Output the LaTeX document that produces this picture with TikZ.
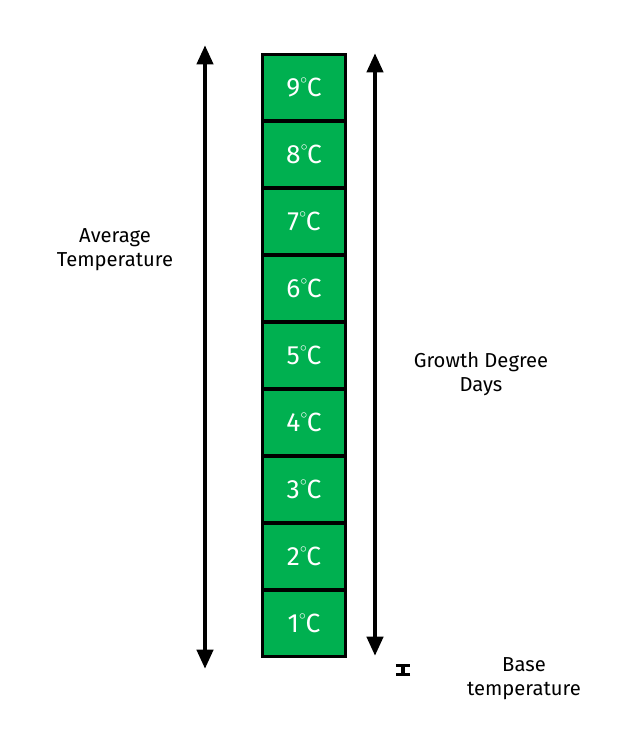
\documentclass[tikz,border=0pt]{standalone}
\usepackage{fontspec}
\setmainfont{Fira Sans}
\usetikzlibrary{positioning,arrows.meta,calc}
\definecolor{boxgreen}{RGB}{0,176,80}
\tikzset{
  tempbox/.style={draw=black, line width=1.7pt, fill=boxgreen, minimum width=47.6pt,
    minimum height=38pt, inner sep=0pt, text=white, font=\fontsize{15}{15}\selectfont},
  bigarrow/.style={line width=2.6pt, {Triangle[length=11pt,width=9pt]}-{Triangle[length=11pt,width=9pt]}},
  lbl/.style={align=center, font=\fontsize{11.5}{13.5}\selectfont}
}
\begin{document}
\begin{tikzpicture}[x=0.02cm, y=-0.02cm]
    \useasboundingbox (0,0) rectangle (632,735);

    % Draw the boxes
    \foreach \i in {1,...,9} {
        \node[tempbox] (t\i) at (304,{623.5-67*(\i-1)}) {\i\raisebox{2pt}{$^{\scriptscriptstyle\circ}$}\kern-0.8ptC};
    }

    % Arrows
    \coordinate (avgTop) at (205,45);
    \coordinate (avgBot) at (205,669);
    \coordinate (gddTop) at (375,53);
    \coordinate (gddBot) at (375,656);
    \draw[bigarrow] (avgTop) -- (avgBot);
    \draw[bigarrow] (gddTop) -- (gddBot);

    % Base marker
    \coordinate (baseTop) at (403,664);
    \coordinate (baseBot) at (403,676);
    \draw[line width=2.4pt, {Bar[width=8pt,line width=1.5pt]}-{Bar[width=8pt,line width=1.5pt]}] (baseTop) -- (baseBot);

    % Labels
    \node[lbl] (avg) at (115,250) {Average\\Temperature};
    \node[lbl] (gdd) at (481,374) {Growth Degree\\Days};
    \node[lbl] (base) at (524,679) {Base\\temperature};
\end{tikzpicture}
\end{document}
